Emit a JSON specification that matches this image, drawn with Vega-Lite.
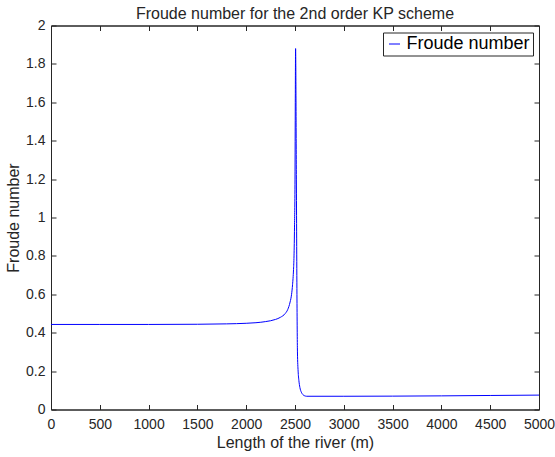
{
  "$schema": "https://vega.github.io/schema/vega-lite/v6.json",
  "width": 488,
  "height": 384,
  "autosize": "none",
  "padding": {"left": 51, "top": 25.5, "right": 16, "bottom": 47.5},
  "background": "white",
  "config": {
    "font": "Liberation Sans",
    "view": {"stroke": "#262626", "strokeWidth": 1},
    "axis": {"grid": false, "domainColor": "#262626", "tickColor": "#262626", "labelColor": "#262626", "titleColor": "#262626", "labelFontSize": 14, "titleFontSize": 16, "titleFontWeight": "normal", "tickSize": -5, "domainWidth": 1, "tickWidth": 1, "labelOverlap": false, "labelFlush": false}
  },
  "title": {"text": "Froude number for the 2nd order KP scheme", "fontSize": 16, "fontWeight": "normal", "color": "#262626", "offset": -3, "anchor": "middle"},
  "data": {"values": [
    {"x": 0, "y": 0.443}, {"x": 500, "y": 0.443}, {"x": 1000, "y": 0.443}, {"x": 1500, "y": 0.444},
    {"x": 1800, "y": 0.446}, {"x": 2000, "y": 0.449}, {"x": 2100, "y": 0.452}, {"x": 2200, "y": 0.458},
    {"x": 2300, "y": 0.469}, {"x": 2350, "y": 0.48}, {"x": 2400, "y": 0.5}, {"x": 2425, "y": 0.52},
    {"x": 2450, "y": 0.56}, {"x": 2465, "y": 0.6}, {"x": 2475, "y": 0.65}, {"x": 2485, "y": 0.73},
    {"x": 2490, "y": 0.8}, {"x": 2495, "y": 0.95}, {"x": 2500, "y": 1.2}, {"x": 2503, "y": 1.6},
    {"x": 2506, "y": 1.88}, {"x": 2514, "y": 1.2}, {"x": 2520, "y": 0.6}, {"x": 2525, "y": 0.3},
    {"x": 2532, "y": 0.2}, {"x": 2540, "y": 0.15}, {"x": 2550, "y": 0.115}, {"x": 2565, "y": 0.09},
    {"x": 2580, "y": 0.078}, {"x": 2600, "y": 0.071}, {"x": 2620, "y": 0.069}, {"x": 3000, "y": 0.069},
    {"x": 4000, "y": 0.071}, {"x": 4500, "y": 0.073}, {"x": 5000, "y": 0.075}
  ]},
  "layer": [
    {
      "mark": {"type": "line", "strokeWidth": 1, "interpolate": "monotone"},
      "encoding": {
        "x": {"field": "x", "type": "quantitative", "scale": {"domain": [0, 5000], "nice": false, "zero": false},
              "axis": {"values": [0,500,1000,1500,2000,2500,3000,3500,4000,4500,5000], "format": "d", "title": "Length of the river (m)", "labelPadding": 13, "titlePadding": 3, "orient": "bottom"}},
        "y": {"field": "y", "type": "quantitative", "scale": {"domain": [0, 2], "nice": false},
              "axis": {"values": [0,0.2,0.4,0.6,0.8,1,1.2,1.4,1.6,1.8,2], "format": "~g", "title": "Froude number", "labelPadding": 11, "titlePadding": 4, "orient": "left"}},
        "color": {"datum": "Froude number", "type": "nominal", "scale": {"range": ["#0000ff"]},
                  "legend": {"title": null, "orient": "top-right", "offset": 6.5, "padding": 2.5, "strokeColor": "#262626", "fillColor": "white", "symbolType": "stroke", "symbolSize": 121, "symbolStrokeWidth": 1, "labelFontSize": 18, "labelColor": "#000000", "labelOffset": 3}}
      }
    },
    {
      "mark": {"type": "line", "opacity": 0},
      "encoding": {
        "x": {"field": "x", "type": "quantitative", "axis": {"orient": "top", "values": [0,500,1000,1500,2000,2500,3000,3500,4000,4500,5000], "labels": false, "title": null, "minExtent": 0, "maxExtent": 0, "labelPadding": 0}},
        "y": {"field": "y", "type": "quantitative", "axis": {"orient": "right", "values": [0,0.2,0.4,0.6,0.8,1,1.2,1.4,1.6,1.8,2], "labels": false, "title": null, "minExtent": 0, "maxExtent": 0, "labelPadding": 0}}
      }
    }
  ],
  "resolve": {"axis": {"x": "independent", "y": "independent"}}
}
